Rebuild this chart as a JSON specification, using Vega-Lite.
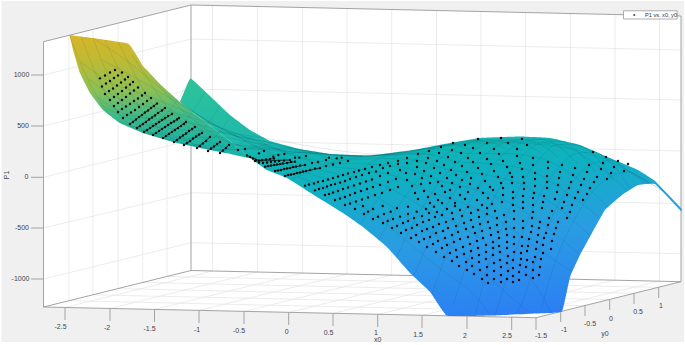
{"$schema":"https://vega.github.io/schema/vega-lite/v6.json","width":685,"height":345,"autosize":{"type":"fit","contains":"padding"},"padding":0,"background":"white","view":{"stroke":null},
"datasets":{
"wallsBg":[{"i":1,"u":43.5,"v":41.7},{"i":2,"u":191,"v":5},{"i":3,"u":681,"v":16},{"i":4,"u":681,"v":281.7},{"i":5,"u":536,"v":317.7},{"i":6,"u":43.5,"v":307}],
"grid":[{"u":212.5,"v":5.5,"u2":212.5,"v2":271},{"u":257.5,"v":6.5,"u2":257.5,"v2":272},{"u":302.5,"v":7.5,"u2":302.5,"v2":273},{"u":347,"v":8.5,"u2":347,"v2":274},{"u":391.7,"v":9.5,"u2":391.7,"v2":275},{"u":436.5,"v":10.5,"u2":436.5,"v2":276},{"u":481,"v":11.5,"u2":481,"v2":277},{"u":525.5,"v":12.5,"u2":525.5,"v2":278},{"u":570.5,"v":13.5,"u2":570.5,"v2":279},{"u":615,"v":14.5,"u2":615,"v2":280},{"u":659.5,"v":15.5,"u2":659.5,"v2":281},
{"u":191,"v":39,"u2":681,"v2":50},{"u":191,"v":89,"u2":681,"v2":100},{"u":191,"v":140,"u2":681,"v2":151},{"u":191,"v":192.7,"u2":681,"v2":203.7},{"u":191,"v":242.7,"u2":681,"v2":253.7},
{"u":43.5,"v":75,"u2":191,"v2":39},{"u":43.5,"v":126,"u2":191,"v2":89},{"u":43.5,"v":177.3,"u2":191,"v2":140},{"u":43.5,"v":228,"u2":191,"v2":192.7},{"u":43.5,"v":279,"u2":191,"v2":242.7},
{"u":69,"v":35.4,"u2":69,"v2":300.7},{"u":93,"v":29.5,"u2":93,"v2":294.8},{"u":118,"v":23.3,"u2":118,"v2":288.6},{"u":142.7,"v":17.2,"u2":142.7,"v2":282.4},{"u":167,"v":11.2,"u2":167,"v2":276.4},
{"u":65,"v":307.5,"u2":212.5,"v2":271},{"u":110,"v":308.5,"u2":257.5,"v2":272},{"u":154.5,"v":309.5,"u2":302.5,"v2":273},{"u":199,"v":310.5,"u2":347,"v2":274},{"u":244,"v":311.5,"u2":391.7,"v2":275},{"u":288.7,"v":312.5,"u2":436.5,"v2":276},{"u":333,"v":313.5,"u2":481,"v2":277},{"u":377.7,"v":314.5,"u2":525.5,"v2":278},{"u":422,"v":315.5,"u2":570.5,"v2":279},{"u":467,"v":316.5,"u2":615,"v2":280},{"u":511.7,"v":317,"u2":659.5,"v2":281},
{"u":69,"v":300.7,"u2":560.7,"v2":311.7},{"u":93,"v":294.8,"u2":585,"v2":305.7},{"u":118,"v":288.6,"u2":609.7,"v2":299.6},{"u":142.7,"v":282.4,"u2":634,"v2":293.4},{"u":167,"v":276.4,"u2":658.7,"v2":287.4}],
"axes":[{"u":43.5,"v":41.7,"u2":191,"v2":5},{"u":191,"v":5,"u2":681,"v2":16},{"u":43.5,"v":41.7,"u2":43.5,"v2":307},{"u":191,"v":5,"u2":191,"v2":270.5},{"u":681,"v":16,"u2":681,"v2":281.7},{"u":43.5,"v":307,"u2":536,"v2":317.7},{"u":536,"v":317.7,"u2":681,"v2":281.7},{"u":43.5,"v":307,"u2":191,"v2":270.5},{"u":191,"v":270.5,"u2":681,"v2":281.7},
{"u":31,"v":75,"u2":43.5,"v2":75},{"u":31,"v":126,"u2":43.5,"v2":126},{"u":31,"v":177.3,"u2":43.5,"v2":177.3},{"u":31,"v":228,"u2":43.5,"v2":228},{"u":31,"v":279,"u2":43.5,"v2":279},
{"u":65,"v":307.5,"u2":65,"v2":320},{"u":110,"v":308.5,"u2":110,"v2":321},{"u":154.5,"v":309.5,"u2":154.5,"v2":322},{"u":199,"v":310.5,"u2":199,"v2":323},{"u":244,"v":311.5,"u2":244,"v2":324},{"u":288.7,"v":312.5,"u2":288.7,"v2":325},{"u":333,"v":313.5,"u2":333,"v2":326},{"u":377.7,"v":314.5,"u2":377.7,"v2":327},{"u":422,"v":315.5,"u2":422,"v2":328},{"u":467,"v":316.5,"u2":467,"v2":329},{"u":511.7,"v":317,"u2":511.7,"v2":330},{"u":536,"v":317.7,"u2":536,"v2":330},
{"u":560.7,"v":311.7,"u2":560.7,"v2":322},{"u":585,"v":305.7,"u2":585,"v2":316},{"u":609.7,"v":299.6,"u2":609.7,"v2":310},{"u":634,"v":293.4,"u2":634,"v2":304},{"u":658.7,"v":287.4,"u2":658.7,"v2":298}],
"rest":[{"i":1,"u":180,"v":102},{"i":2,"u":190.5,"v":78.5},{"i":3,"u":210,"v":96},{"i":4,"u":230,"v":115},{"i":5,"u":250,"v":130},{"i":6,"u":270,"v":141},{"i":7,"u":300,"v":149},{"i":8,"u":330,"v":154},{"i":9,"u":370,"v":155.5},{"i":10,"u":410,"v":150.5},{"i":11,"u":450,"v":143},{"i":12,"u":480,"v":138},{"i":13,"u":520,"v":136.5},{"i":14,"u":550,"v":138},{"i":15,"u":580,"v":145},{"i":16,"u":610,"v":158},{"i":17,"u":638,"v":170},{"i":18,"u":655,"v":181},{"i":19,"u":681,"v":208},{"i":20,"u":681,"v":211},{"i":21,"u":655,"v":184},{"i":22,"u":638,"v":185},{"i":23,"u":622,"v":195},{"i":24,"u":605,"v":210},{"i":25,"u":592,"v":233},{"i":26,"u":580,"v":255},{"i":27,"u":570,"v":277},{"i":28,"u":562,"v":311.5},{"i":29,"u":535,"v":313.5},{"i":30,"u":490,"v":315.5},{"i":31,"u":447,"v":315.7},{"i":32,"u":430,"v":291.7},{"i":33,"u":410,"v":273},{"i":34,"u":387,"v":247},{"i":35,"u":363,"v":227},{"i":36,"u":343,"v":213},{"i":37,"u":317,"v":197},{"i":38,"u":287,"v":178},{"i":39,"u":267,"v":170},{"i":40,"u":250,"v":158},{"i":41,"u":230,"v":141},{"i":42,"u":205,"v":122}],
"front":[{"i":1,"u":69.5,"v":35},{"i":2,"u":128,"v":43.5},{"i":3,"u":143,"v":66},{"i":4,"u":160,"v":84},{"i":5,"u":180,"v":102},{"i":6,"u":205,"v":122},{"i":7,"u":230,"v":141},{"i":8,"u":250,"v":158},{"i":9,"u":230,"v":154},{"i":10,"u":200,"v":148},{"i":11,"u":173,"v":142},{"i":12,"u":143,"v":133},{"i":13,"u":120,"v":123},{"i":14,"u":103,"v":110},{"i":15,"u":90,"v":93},{"i":16,"u":80,"v":73},{"i":17,"u":73,"v":50}],
"mesh":[
{"g":"L1","u":69.5,"v":35},{"g":"L1","u":79.5,"v":61},{"g":"L1","u":97.5,"v":97},{"g":"L1","u":116,"v":120},{"g":"L1","u":134.5,"v":127},{"g":"L1","u":152.5,"v":124},{"g":"L1","u":170.5,"v":109},{"g":"L1","u":190.5,"v":78.5},
{"g":"L1b","u":81,"v":36.5},{"g":"L1b","u":95,"v":72},{"g":"L1b","u":113,"v":106},{"g":"L1b","u":131.5,"v":126},{"g":"L1b","u":150,"v":134},{"g":"L1b","u":168,"v":133},{"g":"L1b","u":186,"v":120},{"g":"L1b","u":205,"v":92},
{"g":"L2","u":93,"v":38},{"g":"L2","u":111,"v":82.5},{"g":"L2","u":129,"v":115},{"g":"L2","u":147,"v":131},{"g":"L2","u":166,"v":139},{"g":"L2","u":184,"v":140},{"g":"L2","u":202,"v":130},{"g":"L2","u":220,"v":106},
{"g":"L2b","u":105,"v":40},{"g":"L2b","u":120,"v":72},{"g":"L2b","u":138,"v":105},{"g":"L2b","u":156,"v":127},{"g":"L2b","u":174.5,"v":139.5},{"g":"L2b","u":193,"v":145},{"g":"L2b","u":211,"v":140},{"g":"L2b","u":229,"v":119},
{"g":"L3","u":118,"v":42},{"g":"L3","u":128.5,"v":62},{"g":"L3","u":146.5,"v":95.5},{"g":"L3","u":164.5,"v":120},{"g":"L3","u":183,"v":138},{"g":"L3","u":201.5,"v":147},{"g":"L3","u":219.5,"v":150},{"g":"L3","u":237.5,"v":145},{"g":"L3","u":255.5,"v":134},
{"g":"L3b","u":132,"v":55},{"g":"L3b","u":146,"v":76},{"g":"L3b","u":164,"v":103},{"g":"L3b","u":182,"v":122},{"g":"L3b","u":201,"v":137},{"g":"L3b","u":219,"v":146},{"g":"L3b","u":237,"v":150},{"g":"L3b","u":255,"v":147},{"g":"L3b","u":273,"v":143},
{"g":"L4","u":146,"v":68},{"g":"L4","u":164,"v":91},{"g":"L4","u":182,"v":110},{"g":"L4","u":200,"v":125},{"g":"L4","u":219,"v":137},{"g":"L4","u":237,"v":145},{"g":"L4","u":255,"v":149},{"g":"L4","u":273,"v":149},{"g":"L4","u":291,"v":148},
{"g":"L5","u":182,"v":104},{"g":"L5","u":200,"v":116},{"g":"L5","u":218,"v":127},{"g":"L5","u":236,"v":136},{"g":"L5","u":254.5,"v":143},{"g":"L5","u":273,"v":148},{"g":"L5","u":291,"v":152},{"g":"L5","u":309,"v":153},{"g":"L5","u":327,"v":154.5},
{"g":"L6","u":218,"v":132},{"g":"L6","u":236,"v":136},{"g":"L6","u":254,"v":139.5},{"g":"L6","u":272,"v":143},{"g":"L6","u":290,"v":148},{"g":"L6","u":309,"v":151},{"g":"L6","u":327,"v":154},{"g":"L6","u":345,"v":155.5},{"g":"L6","u":363,"v":156.5},
{"g":"L7","u":253,"v":158},{"g":"L7","u":271,"v":155},{"g":"L7","u":289,"v":153.5},{"g":"L7","u":307,"v":152},{"g":"L7","u":326,"v":154},{"g":"L7","u":344,"v":155.5},{"g":"L7","u":362,"v":156},{"g":"L7","u":380,"v":155.5},{"g":"L7","u":398,"v":155},
{"g":"L8","u":289,"v":181},{"g":"L8","u":307,"v":172.5},{"g":"L8","u":325,"v":165.5},{"g":"L8","u":343,"v":160},{"g":"L8","u":361.5,"v":157},{"g":"L8","u":380,"v":155},{"g":"L8","u":398,"v":152.5},{"g":"L8","u":416,"v":153},{"g":"L8","u":434,"v":155},
{"g":"L9","u":325,"v":201},{"g":"L9","u":343,"v":183.7},{"g":"L9","u":361,"v":169.5},{"g":"L9","u":379,"v":158.5},{"g":"L9","u":397,"v":152.5},{"g":"L9","u":416,"v":151},{"g":"L9","u":434,"v":147},{"g":"L9","u":452,"v":145},{"g":"L9","u":470,"v":150},
{"g":"L10","u":360.5,"v":224},{"g":"L10","u":378.5,"v":198},{"g":"L10","u":396.5,"v":176.7},{"g":"L10","u":414.5,"v":160},{"g":"L10","u":433,"v":148.5},{"g":"L10","u":451.5,"v":144.5},{"g":"L10","u":469.5,"v":141},{"g":"L10","u":487.5,"v":141.8},{"g":"L10","u":505.5,"v":149},
{"g":"L10b","u":378,"v":241},{"g":"L10b","u":396,"v":210},{"g":"L10b","u":414,"v":185},{"g":"L10b","u":432,"v":165},{"g":"L10b","u":451,"v":151},{"g":"L10b","u":469,"v":142.5},{"g":"L10b","u":487,"v":139.5},{"g":"L10b","u":505,"v":142.5},{"g":"L10b","u":523,"v":151},
{"g":"L11","u":396,"v":258},{"g":"L11","u":414,"v":222},{"g":"L11","u":432,"v":192.7},{"g":"L11","u":450,"v":170},{"g":"L11","u":468.7,"v":153.5},{"g":"L11","u":487,"v":143.6},{"g":"L11","u":505,"v":140},{"g":"L11","u":523,"v":143.3},{"g":"L11","u":541,"v":153},
{"g":"L11b","u":414,"v":276},{"g":"L11b","u":432,"v":233.5},{"g":"L11b","u":450,"v":199},{"g":"L11b","u":468,"v":172.5},{"g":"L11b","u":486.6,"v":153.5},{"g":"L11b","u":505,"v":142.8},{"g":"L11b","u":523,"v":139.7},{"g":"L11b","u":541,"v":145},{"g":"L11b","u":559,"v":158},
{"g":"L12","u":432,"v":294},{"g":"L12","u":450,"v":245},{"g":"L12","u":468,"v":205},{"g":"L12","u":486,"v":175},{"g":"L12","u":504.5,"v":153.5},{"g":"L12","u":523,"v":142},{"g":"L12","u":541,"v":139.5},{"g":"L12","u":559,"v":146.6},{"g":"L12","u":577,"v":163},
{"g":"L12b","u":453,"v":305},{"g":"L12b","u":468,"v":260},{"g":"L12b","u":486,"v":214},{"g":"L12b","u":504,"v":180},{"g":"L12b","u":522,"v":156},{"g":"L12b","u":541,"v":143},{"g":"L12b","u":559,"v":141.5},{"g":"L12b","u":577,"v":151},{"g":"L12b","u":595,"v":171.5},
{"g":"L13","u":475,"v":316},{"g":"L13","u":485.6,"v":275},{"g":"L13","u":503.6,"v":223.5},{"g":"L13","u":521.6,"v":184.4},{"g":"L13","u":540,"v":158},{"g":"L13","u":558.6,"v":144.4},{"g":"L13","u":576.6,"v":145},{"g":"L13","u":594.6,"v":155.4},{"g":"L13","u":612.6,"v":180},
{"g":"L13b","u":495,"v":316},{"g":"L13b","u":503,"v":290},{"g":"L13b","u":521,"v":236.5},{"g":"L13b","u":539,"v":196},{"g":"L13b","u":558,"v":168},{"g":"L13b","u":576,"v":153.7},{"g":"L13b","u":594,"v":152},{"g":"L13b","u":612,"v":164},{"g":"L13b","u":630,"v":188.5},
{"g":"L14","u":516,"v":314},{"g":"L14","u":521,"v":305.5},{"g":"L14","u":539,"v":249.5},{"g":"L14","u":557,"v":207},{"g":"L14","u":576,"v":178},{"g":"L14","u":594,"v":163},{"g":"L14","u":612,"v":160.5},{"g":"L14","u":630,"v":172},{"g":"L14","u":648,"v":182},
{"g":"L14b","u":541.5,"v":308},{"g":"L14b","u":555.5,"v":261},{"g":"L14b","u":573.5,"v":221.5},{"g":"L14b","u":592,"v":192.5},{"g":"L14b","u":610.5,"v":176.5},{"g":"L14b","u":628.5,"v":172},{"g":"L14b","u":646.5,"v":181},{"g":"L14b","u":664.5,"v":192},
{"g":"S1","u":93,"v":38},{"g":"S1","u":128.5,"v":62},{"g":"S1","u":164,"v":91},{"g":"S1","u":200,"v":116},{"g":"S1","u":236,"v":136},{"g":"S1","u":271,"v":155},{"g":"S1","u":307,"v":172.5},{"g":"S1","u":343,"v":184},{"g":"S1","u":378.5,"v":198},{"g":"S1","u":414,"v":222},{"g":"S1","u":450,"v":245},{"g":"S1","u":485.6,"v":275},{"g":"S1","u":521,"v":305.5},{"g":"S1","u":530,"v":313},
{"g":"S2","u":79.5,"v":61},{"g":"S2","u":111,"v":82.5},{"g":"S2","u":146.5,"v":95.5},{"g":"S2","u":182,"v":110},{"g":"S2","u":218,"v":127},{"g":"S2","u":254,"v":139.5},{"g":"S2","u":289,"v":153.5},{"g":"S2","u":325,"v":165.5},{"g":"S2","u":361,"v":169.5},{"g":"S2","u":396.5,"v":176.7},{"g":"S2","u":432,"v":192.7},{"g":"S2","u":468,"v":205},{"g":"S2","u":503.6,"v":223.5},{"g":"S2","u":539,"v":249.5},{"g":"S2","u":572,"v":272},
{"g":"S3","u":97.5,"v":97},{"g":"S3","u":129,"v":115},{"g":"S3","u":164.5,"v":120},{"g":"S3","u":200,"v":125},{"g":"S3","u":236,"v":136},{"g":"S3","u":272,"v":143},{"g":"S3","u":307,"v":152},{"g":"S3","u":343,"v":160},{"g":"S3","u":379,"v":158.5},{"g":"S3","u":414.5,"v":160},{"g":"S3","u":450,"v":170},{"g":"S3","u":486,"v":175},{"g":"S3","u":521.6,"v":184.4},{"g":"S3","u":557,"v":207},{"g":"S3","u":590,"v":236},
{"g":"S4","u":116,"v":120},{"g":"S4","u":147,"v":131},{"g":"S4","u":183,"v":138},{"g":"S4","u":219,"v":137},{"g":"S4","u":254.5,"v":143},{"g":"S4","u":290,"v":148},{"g":"S4","u":326,"v":154},{"g":"S4","u":361.5,"v":157},{"g":"S4","u":397,"v":152.5},{"g":"S4","u":433,"v":148.5},{"g":"S4","u":468.7,"v":153.5},{"g":"S4","u":504.5,"v":153.5},{"g":"S4","u":540,"v":158},{"g":"S4","u":576,"v":178},{"g":"S4","u":608,"v":207},
{"g":"S5","u":134.5,"v":127},{"g":"S5","u":166,"v":139},{"g":"S5","u":201.5,"v":146},{"g":"S5","u":237,"v":145},{"g":"S5","u":273,"v":148},{"g":"S5","u":309,"v":151},{"g":"S5","u":344,"v":155.5},{"g":"S5","u":380,"v":155},{"g":"S5","u":416,"v":151},{"g":"S5","u":451.5,"v":144.5},{"g":"S5","u":487,"v":143.6},{"g":"S5","u":523,"v":142},{"g":"S5","u":558.6,"v":144.4},{"g":"S5","u":594,"v":163},{"g":"S5","u":627,"v":190},
{"g":"S6","u":152.5,"v":124},{"g":"S6","u":184,"v":140},{"g":"S6","u":219.5,"v":150},{"g":"S6","u":255,"v":149},{"g":"S6","u":291,"v":152},{"g":"S6","u":327,"v":154},{"g":"S6","u":362,"v":156},{"g":"S6","u":398,"v":152.5},{"g":"S6","u":434,"v":147},{"g":"S6","u":469.5,"v":141},{"g":"S6","u":505,"v":140},{"g":"S6","u":541,"v":139.5},{"g":"S6","u":576.6,"v":145},{"g":"S6","u":612,"v":160.5},{"g":"S6","u":645,"v":183},
{"g":"S7","u":170.5,"v":109},{"g":"S7","u":202,"v":130},{"g":"S7","u":237.5,"v":145},{"g":"S7","u":273,"v":149},{"g":"S7","u":309,"v":153},{"g":"S7","u":345,"v":155.5},{"g":"S7","u":380,"v":155},{"g":"S7","u":416,"v":153},{"g":"S7","u":452,"v":145},{"g":"S7","u":487.5,"v":141.8},{"g":"S7","u":523,"v":143.3},{"g":"S7","u":559,"v":146.6},{"g":"S7","u":594.6,"v":155.4},{"g":"S7","u":630,"v":172},{"g":"S7","u":663,"v":191},
{"g":"S0b","u":298,"v":177},{"g":"S0b","u":334,"v":192.5},{"g":"S0b","u":369.5,"v":211},{"g":"S0b","u":405,"v":240},{"g":"S0b","u":441,"v":269.5},{"g":"S0b","u":476,"v":297},{"g":"S0b","u":490,"v":315},
{"g":"S1b","u":102,"v":60},{"g":"S1b","u":137.5,"v":79},{"g":"S1b","u":173,"v":100},{"g":"S1b","u":209,"v":121.5},{"g":"S1b","u":316,"v":169},{"g":"S1b","u":352,"v":177},{"g":"S1b","u":387.5,"v":187},{"g":"S1b","u":423,"v":207},{"g":"S1b","u":459,"v":225},{"g":"S1b","u":494.6,"v":249},{"g":"S1b","u":530,"v":277.5},{"g":"S1b","u":551,"v":312},
{"g":"S2b","u":88.5,"v":79},{"g":"S2b","u":120,"v":99},{"g":"S2b","u":155.5,"v":108},{"g":"S2b","u":191,"v":117.5},{"g":"S2b","u":334,"v":163},{"g":"S2b","u":370,"v":164},{"g":"S2b","u":405.5,"v":168},{"g":"S2b","u":441,"v":181},{"g":"S2b","u":477,"v":190},{"g":"S2b","u":512.6,"v":204},{"g":"S2b","u":548,"v":228},{"g":"S2b","u":579,"v":254},
{"g":"S3b","u":107,"v":108.5},{"g":"S3b","u":138,"v":122},{"g":"S3b","u":174,"v":129},{"g":"S3b","u":209.5,"v":131},{"g":"S3b","u":388,"v":154.5},{"g":"S3b","u":424,"v":154},{"g":"S3b","u":459,"v":162},{"g":"S3b","u":495,"v":164},{"g":"S3b","u":531,"v":171},{"g":"S3b","u":566.5,"v":192.5},{"g":"S3b","u":599,"v":217}],
"streaks":[{"u":130,"v":124,"u2":157,"v2":103.5},{"u":137,"v":128,"u2":165,"v2":108},{"u":144,"v":132,"u2":172,"v2":114},{"u":153,"v":135,"u2":179,"v2":118},{"u":163,"v":138,"u2":186,"v2":122},{"u":174,"v":142,"u2":195,"v2":127},{"u":184,"v":145,"u2":202,"v2":133},{"u":197,"v":148,"u2":210,"v2":137},{"u":208,"v":151,"u2":220,"v2":142},{"u":220,"v":153,"u2":229,"v2":145},{"u":247,"v":155.5,"u2":259,"v2":160.5},{"u":259,"v":160.5,"u2":274,"v2":158.5},{"u":255,"v":161,"u2":290,"v2":160},{"u":265,"v":166.7,"u2":295,"v2":161.7},{"u":275,"v":171,"u2":305,"v2":165},{"u":285,"v":176,"u2":320,"v2":168}],
"dots":[{"u":100,"v":78.3},{"u":105,"v":75.5},{"u":110,"v":72.5},{"u":115,"v":70},{"u":102,"v":86.5},{"u":106,"v":83.5},{"u":110,"v":81},{"u":114,"v":78},{"u":118,"v":75.5},{"u":122,"v":72.5},{"u":105,"v":94},{"u":109,"v":91},{"u":113,"v":88.5},{"u":117,"v":85.5},{"u":121,"v":82.5},{"u":125,"v":79.5},{"u":128,"v":77},{"u":110,"v":100},{"u":114,"v":97},{"u":118,"v":94},{"u":122,"v":91},{"u":126,"v":87.5},{"u":130,"v":84.5},{"u":133,"v":82},{"u":114,"v":106},{"u":118,"v":103},{"u":122,"v":100},{"u":126,"v":97},{"u":130,"v":93.5},{"u":134,"v":90.5},{"u":138,"v":87.5},{"u":118,"v":112},{"u":122,"v":109},{"u":126,"v":106.5},{"u":130,"v":104},{"u":134,"v":101},{"u":138,"v":98.5},{"u":142,"v":95.5},{"u":145,"v":93},{"u":123,"v":118},{"u":127,"v":115},{"u":131,"v":112.5},{"u":135,"v":110},{"u":139,"v":107},{"u":143,"v":104},{"u":147,"v":101},{"u":151,"v":98},{"u":130,"v":124},{"u":133,"v":122},{"u":136,"v":119.5},{"u":139,"v":117},{"u":142,"v":115},{"u":145,"v":112.5},{"u":148,"v":110.5},{"u":151,"v":108},{"u":154,"v":106},{"u":157,"v":103.5},{"u":137,"v":128},{"u":140,"v":126},{"u":143,"v":124},{"u":146,"v":122},{"u":149,"v":119.5},{"u":152,"v":117.5},{"u":155,"v":115.5},{"u":158,"v":113},{"u":162,"v":110.5},{"u":165,"v":108},{"u":144,"v":132},{"u":147,"v":130},{"u":150,"v":128},{"u":153,"v":126},{"u":156,"v":124},{"u":159,"v":122},{"u":162,"v":120},{"u":165,"v":118},{"u":168,"v":116},{"u":172,"v":114},{"u":153,"v":135},{"u":156,"v":133},{"u":159,"v":131},{"u":162,"v":129},{"u":165,"v":127},{"u":168,"v":125},{"u":171,"v":123},{"u":174,"v":121.5},{"u":177,"v":119.5},{"u":179,"v":118},{"u":163,"v":138},{"u":166,"v":136},{"u":169,"v":134},{"u":172,"v":132},{"u":175,"v":130},{"u":178,"v":128},{"u":181,"v":126},{"u":184,"v":124},{"u":186,"v":122},{"u":174,"v":142},{"u":177,"v":140},{"u":180,"v":137.5},{"u":183,"v":135.5},{"u":186,"v":133.5},{"u":189,"v":131},{"u":192,"v":129},{"u":195,"v":127},{"u":184,"v":145},{"u":187,"v":143},{"u":190,"v":141},{"u":193,"v":138.5},{"u":196,"v":136.5},{"u":199,"v":134.5},{"u":202,"v":133},{"u":197,"v":148},{"u":200,"v":146},{"u":203,"v":143.5},{"u":206,"v":141},{"u":210,"v":137},{"u":208,"v":151},{"u":211,"v":148.5},{"u":214,"v":146.5},{"u":217,"v":144},{"u":220,"v":142},{"u":220,"v":153},{"u":223,"v":150.5},{"u":226,"v":148},{"u":229,"v":145},
{"u":238,"v":150},{"u":245,"v":149},{"u":259,"v":153.3},{"u":264,"v":151},{"u":273.3,"v":156.7},{"u":278.3,"v":155},{"u":284.3,"v":154},{"u":295,"v":157.7},{"u":299.3,"v":157.7},{"u":306,"v":156},{"u":329,"v":157.7},{"u":336.7,"v":158.3},{"u":341.7,"v":157.7},
{"u":247,"v":155.5},{"u":250,"v":157},{"u":253,"v":158.5},{"u":256,"v":160},{"u":259,"v":160.5},{"u":262,"v":160},{"u":266,"v":159.5},{"u":270,"v":159},{"u":274,"v":158.5},{"u":255,"v":161},{"u":259,"v":162.5},{"u":263,"v":163},{"u":267,"v":162.5},{"u":271,"v":162},{"u":275,"v":161.5},{"u":279,"v":161},{"u":284,"v":160.5},{"u":290,"v":160},{"u":265,"v":166.7},{"u":268,"v":166},{"u":271,"v":165.5},{"u":274,"v":165},{"u":277,"v":164.5},{"u":280,"v":164},{"u":283,"v":163.5},{"u":287,"v":163},{"u":291,"v":162},{"u":295,"v":161.7},{"u":275,"v":171},{"u":278,"v":170.5},{"u":281,"v":170},{"u":284,"v":169},{"u":287,"v":168.5},{"u":290,"v":168},{"u":293,"v":167},{"u":296,"v":166.5},{"u":300,"v":165.5},{"u":305,"v":165},{"u":312,"v":163},{"u":318,"v":162},{"u":326,"v":160},{"u":285,"v":176},{"u":288,"v":175},{"u":291,"v":174.5},{"u":294,"v":174},{"u":297,"v":173},{"u":300,"v":172.5},{"u":303,"v":171.5},{"u":306,"v":171},{"u":310,"v":170},{"u":315,"v":168.5},{"u":320,"v":168},{"u":326,"v":166},{"u":333,"v":164.5},{"u":340,"v":163},{"u":348,"v":161},
{"u":305,"v":185.7},{"u":309,"v":184.5},{"u":314,"v":183.5},{"u":318,"v":182},{"u":323,"v":181},{"u":328,"v":179.5},{"u":333,"v":178},{"u":338,"v":176.5},{"u":343,"v":175},{"u":348,"v":173.5},{"u":354,"v":172},{"u":359,"v":170.5},{"u":365,"v":169},{"u":372,"v":167},{"u":380,"v":165},{"u":388,"v":163},{"u":398,"v":161},{"u":407,"v":158},
{"u":315,"v":190.3},{"u":319,"v":189},{"u":323,"v":188},{"u":327,"v":186.5},{"u":331,"v":185},{"u":335,"v":184},{"u":340,"v":182.5},{"u":345,"v":181},{"u":350,"v":179},{"u":356,"v":177},{"u":362,"v":175},{"u":369,"v":173},{"u":376,"v":171.5},{"u":383,"v":168},{"u":390,"v":166},{"u":398,"v":164},{"u":407,"v":163},
{"u":325,"v":195},{"u":329,"v":194},{"u":333,"v":192.5},{"u":338,"v":191},{"u":343,"v":189},{"u":348,"v":187.5},{"u":354,"v":185.5},{"u":360,"v":183.5},{"u":366,"v":181.5},{"u":372,"v":179.5},{"u":380,"v":176},{"u":388,"v":173},{"u":400,"v":170},
{"u":335,"v":200},{"u":340,"v":198.5},{"u":345,"v":197},{"u":350,"v":195},{"u":355,"v":193},{"u":361,"v":191},{"u":367,"v":189},{"u":373,"v":187},{"u":380,"v":185},{"u":388,"v":182},{"u":396,"v":179},{"u":406,"v":173},
{"u":345,"v":205},{"u":350,"v":203.5},{"u":356,"v":201.5},{"u":362,"v":199.5},{"u":368,"v":197.5},{"u":375,"v":195},{"u":382,"v":193},{"u":390,"v":190},{"u":398,"v":187},{"u":407,"v":180},
{"u":355,"v":209},{"u":363,"v":206},{"u":364,"v":214},{"u":368,"v":211.7},{"u":373,"v":209},{"u":382.7,"v":206},{"u":373,"v":219},{"u":378,"v":216.7},{"u":384,"v":214},{"u":390.7,"v":211.7},{"u":397,"v":208},{"u":408,"v":206.7},{"u":383,"v":223},{"u":387.7,"v":221},{"u":393,"v":219},{"u":400,"v":216.7},{"u":408,"v":214},{"u":416.7,"v":211.7},{"u":426,"v":209},{"u":434,"v":206.7},
{"u":392,"v":228},{"u":397,"v":226},{"u":403,"v":223},{"u":408,"v":221},{"u":414,"v":218},{"u":422,"v":216},{"u":429,"v":213},{"u":437,"v":212},{"u":447,"v":209},{"u":455,"v":206},{"u":401,"v":233},{"u":406,"v":230},{"u":412,"v":228},{"u":417,"v":225},{"u":423,"v":222},{"u":429,"v":220},{"u":435,"v":217},{"u":442,"v":215},{"u":452,"v":213},{"u":460,"v":210},{"u":468,"v":207},{"u":411,"v":238},{"u":416,"v":235},{"u":422,"v":231},{"u":427,"v":229},{"u":433,"v":227},{"u":439,"v":224},{"u":446,"v":222},{"u":453,"v":219},{"u":462,"v":216},{"u":471,"v":213},{"u":478,"v":210},{"u":487,"v":208},{"u":419,"v":242},{"u":424,"v":239},{"u":430,"v":237},{"u":436,"v":233},{"u":443,"v":231},{"u":448,"v":228},{"u":456,"v":226},{"u":464,"v":223},{"u":471,"v":220},{"u":479,"v":217},{"u":487,"v":214},{"u":495,"v":211},{"u":427,"v":247},{"u":433,"v":244},{"u":438,"v":241},{"u":445,"v":238},{"u":452,"v":235},{"u":458,"v":232},{"u":466,"v":229},{"u":473,"v":227},{"u":480,"v":224},{"u":488,"v":222},{"u":497,"v":218},{"u":504,"v":215},{"u":436,"v":252},{"u":442,"v":248},{"u":447,"v":245},{"u":454,"v":242},{"u":460,"v":239},{"u":468,"v":237},{"u":475,"v":233},{"u":482,"v":231},{"u":490,"v":228},{"u":497,"v":225},{"u":506,"v":222},{"u":444,"v":257},{"u":450,"v":253},{"u":456,"v":250},{"u":463,"v":247},{"u":470,"v":244},{"u":477,"v":241},{"u":483,"v":238},{"u":491,"v":235},{"u":498,"v":232},{"u":506,"v":229},{"u":452,"v":261},{"u":457,"v":257},{"u":464,"v":254},{"u":471,"v":251},{"u":478,"v":248},{"u":486,"v":245},{"u":493,"v":242},{"u":499,"v":238},{"u":507,"v":235},{"u":459,"v":266},{"u":466,"v":262},{"u":472,"v":258},{"u":479,"v":255},{"u":486,"v":252},{"u":493,"v":248},{"u":499,"v":246},{"u":507,"v":242},{"u":467,"v":270},{"u":472,"v":266},{"u":479,"v":262},{"u":486,"v":259},{"u":493,"v":255},{"u":500,"v":252},{"u":507,"v":248},{"u":474,"v":274},{"u":480,"v":270},{"u":487,"v":267},{"u":494,"v":263},{"u":500,"v":260},{"u":508,"v":256},{"u":482,"v":279},{"u":487,"v":275},{"u":494,"v":271},{"u":501,"v":267},{"u":507,"v":263},{"u":488,"v":283},{"u":494,"v":279},{"u":501,"v":275},{"u":508,"v":271},{"u":501,"v":282},{"u":507,"v":279},
{"u":523,"v":208},{"u":542,"v":208},{"u":562,"v":208},{"u":514,"v":211},{"u":533,"v":212},{"u":552,"v":211},{"u":570,"v":212},{"u":514,"v":219},{"u":523,"v":221},{"u":532,"v":218},{"u":549,"v":218},{"u":567,"v":218},{"u":540,"v":222},{"u":558,"v":222},{"u":514,"v":228},{"u":523,"v":228},{"u":532,"v":226},{"u":548,"v":225},{"u":556,"v":228},{"u":539,"v":228},{"u":514,"v":237},{"u":522,"v":237},{"u":531,"v":232},{"u":538,"v":235},{"u":546,"v":233},{"u":554,"v":234},{"u":514,"v":244},{"u":522,"v":246},{"u":529,"v":239},{"u":537,"v":242},{"u":544,"v":238},{"u":552,"v":241},{"u":514,"v":252},{"u":521,"v":253},{"u":528,"v":246},{"u":536,"v":249},{"u":543,"v":245},{"u":551,"v":249},{"u":513,"v":260},{"u":521,"v":259},{"u":527,"v":251},{"u":535,"v":257},{"u":543,"v":253},{"u":513,"v":268},{"u":520,"v":265},{"u":527,"v":260},{"u":533,"v":262},{"u":541,"v":259},{"u":513,"v":276},{"u":519,"v":272},{"u":526,"v":267},{"u":533,"v":270},{"u":540,"v":267},{"u":513,"v":282},{"u":519,"v":280},{"u":526,"v":275},{"u":533,"v":278},{"u":539,"v":275},
{"u":418,"v":154},{"u":429,"v":151},{"u":441,"v":147},{"u":453,"v":143},{"u":478,"v":139},{"u":501,"v":138},{"u":522,"v":139},{"u":417,"v":161},{"u":428,"v":158},{"u":439,"v":153},{"u":452,"v":150},{"u":465,"v":145},{"u":487,"v":143},{"u":508,"v":143},{"u":417,"v":167},{"u":426,"v":163},{"u":437,"v":161},{"u":448,"v":157},{"u":461,"v":153},{"u":473,"v":148},{"u":494,"v":149},{"u":517,"v":149},{"u":415,"v":174},{"u":424,"v":171},{"u":434,"v":168},{"u":444,"v":165},{"u":455,"v":162},{"u":468,"v":158},{"u":480,"v":153},{"u":499,"v":154},{"u":527,"v":145},{"u":422,"v":178},{"u":431,"v":176},{"u":440,"v":173},{"u":451,"v":170},{"u":462,"v":166},{"u":473,"v":162},{"u":487,"v":159},{"u":503,"v":161},{"u":517,"v":156},{"u":533,"v":158},{"u":430,"v":183},{"u":438,"v":182},{"u":447,"v":178},{"u":456,"v":175},{"u":467,"v":172},{"u":478,"v":168},{"u":491,"v":164},{"u":507,"v":167},{"u":520,"v":163},{"u":533,"v":165},{"u":442,"v":186},{"u":452,"v":183},{"u":462,"v":180},{"u":471,"v":178},{"u":482,"v":174},{"u":494,"v":171},{"u":510,"v":173},{"u":522,"v":169},{"u":535,"v":173},{"u":548,"v":162},{"u":450,"v":190},{"u":460,"v":187},{"u":470,"v":184},{"u":485,"v":181},{"u":498,"v":177},{"u":512,"v":177},{"u":523,"v":177},{"u":548,"v":168},{"u":562,"v":165},{"u":468,"v":192},{"u":478,"v":188},{"u":490,"v":187},{"u":501,"v":183},{"u":512,"v":183},{"u":524,"v":183},{"u":535,"v":179},{"u":547,"v":176},{"u":560,"v":172},{"u":483,"v":193},{"u":493,"v":190},{"u":503,"v":188},{"u":513,"v":192},{"u":524,"v":189},{"u":535,"v":186},{"u":547,"v":182},{"u":559,"v":178},{"u":477,"v":200},{"u":488,"v":198},{"u":503,"v":195},{"u":513,"v":198},{"u":523,"v":196},{"u":534,"v":193},{"u":547,"v":188},{"u":558,"v":185},{"u":482,"v":205},{"u":492,"v":204},{"u":502,"v":202},{"u":513,"v":205},{"u":523,"v":202},{"u":533,"v":198},{"u":544,"v":196},{"u":557,"v":192},{"u":533,"v":205},{"u":543,"v":202},{"u":555,"v":199},{"u":412,"v":186},{"u":421,"v":184},{"u":415,"v":193},{"u":424,"v":191},{"u":435,"v":194},{"u":445,"v":192},{"u":418,"v":199},{"u":428,"v":197},{"u":438,"v":200},{"u":450,"v":198},{"u":460,"v":195},{"u":430,"v":203},{"u":442,"v":203},{"u":455,"v":203},{"u":465,"v":199},
{"u":593,"v":152},{"u":606,"v":157},{"u":618,"v":161},{"u":628,"v":164},{"u":603,"v":163},{"u":614,"v":167},{"u":624,"v":171},{"u":575,"v":168},{"u":589,"v":165},{"u":601,"v":169},{"u":611,"v":173},{"u":573,"v":175},{"u":587,"v":172},{"u":597,"v":177},{"u":607,"v":179},{"u":571,"v":182},{"u":584,"v":179},{"u":594,"v":182},{"u":569,"v":188},{"u":581,"v":185},{"u":590,"v":188},{"u":567,"v":195},{"u":578,"v":192},{"u":587,"v":194},{"u":564,"v":202},{"u":575,"v":198},{"u":572,"v":205},{"u":583,"v":200}],
"labels":[{"u":21.5,"v":75,"t":"1000"},{"u":23,"v":126,"t":"500"},{"u":26.5,"v":177.3,"t":"0"},{"u":22,"v":228,"t":"-500"},{"u":20.5,"v":279,"t":"-1000"},{"u":60.5,"v":327,"t":"-2.5"},{"u":107,"v":328,"t":"-2"},{"u":149.5,"v":329,"t":"-1.5"},{"u":197,"v":330,"t":"-1"},{"u":239,"v":331,"t":"-0.5"},{"u":286.7,"v":332,"t":"0"},{"u":328.5,"v":332.5,"t":"0.5"},{"u":376,"v":333,"t":"1"},{"u":418,"v":334.5,"t":"1.5"},{"u":465,"v":335.5,"t":"2"},{"u":507,"v":336,"t":"2.5"},{"u":541,"v":336,"t":"-1.5"},{"u":564,"v":330,"t":"-1"},{"u":590,"v":324,"t":"-0.5"},{"u":611,"v":318.5,"t":"0"},{"u":638,"v":312,"t":"0.5"},{"u":661,"v":306,"t":"1"},{"u":377.7,"v":340,"t":"x0"},{"u":605,"v":334,"t":"y0"}]
},
"encoding":{"x":{"field":"u","type":"quantitative","scale":{"domain":[0,685],"nice":false,"zero":false},"axis":null},"y":{"field":"v","type":"quantitative","scale":{"domain":[345,0],"nice":false,"zero":false},"axis":null}},
"layer":[
{"data":{"values":[{"u":1.5,"v":1,"u2":684,"v2":342}]},"mark":{"type":"rect","color":"#f0f0f0"},"encoding":{"x2":{"field":"u2"},"y2":{"field":"v2"}}},
{"data":{"name":"wallsBg"},"mark":{"type":"line","fill":"white","stroke":null,"strokeWidth":0},"encoding":{"order":{"field":"i"}}},
{"data":{"name":"grid"},"mark":{"type":"rule","color":"#e4e4e4","strokeWidth":0.7},"encoding":{"x2":{"field":"u2"},"y2":{"field":"v2"}}},
{"data":{"name":"axes"},"mark":{"type":"rule","color":"#9a9a9a","strokeWidth":0.9},"encoding":{"x2":{"field":"u2"},"y2":{"field":"v2"}}},
{"data":{"name":"rest"},"mark":{"type":"line","interpolate":"cardinal","tension":0.75,"stroke":null,"strokeWidth":0,"fill":{"gradient":"linear","x1":0,"y1":0,"x2":0.244,"y2":1.16,"stops":[{"offset":0,"color":"#2ec396"},{"offset":0.25,"color":"#1cb9ae"},{"offset":0.3,"color":"#10b5b2"},{"offset":0.43,"color":"#0fb0c2"},{"offset":0.655,"color":"#2a9ce2"},{"offset":0.94,"color":"#2c7ff4"},{"offset":1,"color":"#2c78f6"}]}},"encoding":{"order":{"field":"i"}}},
{"data":{"name":"front"},"mark":{"type":"line","interpolate":"cardinal","tension":0.75,"stroke":null,"strokeWidth":0,"fill":{"gradient":"linear","x1":0,"y1":0,"x2":0,"y2":1,"stops":[{"offset":0,"color":"#d6b52a"},{"offset":0.2,"color":"#c0ba32"},{"offset":0.45,"color":"#8cc055"},{"offset":0.65,"color":"#3fbb88"},{"offset":0.85,"color":"#20b6a2"},{"offset":1,"color":"#18b2ab"}]}},"encoding":{"order":{"field":"i"}}},
{"data":{"name":"mesh"},"mark":{"type":"line","interpolate":"monotone","color":"#06304a","opacity":0.2,"strokeWidth":0.5},"encoding":{"detail":{"field":"g"}}},
{"data":{"name":"streaks"},"mark":{"type":"rule","color":"#0a0a0a","strokeWidth":0.9,"opacity":0.8},"encoding":{"x2":{"field":"u2"},"y2":{"field":"v2"}}},
{"data":{"name":"dots"},"mark":{"type":"point","filled":true,"size":5.5,"color":"#0a0a0a","opacity":1,"strokeWidth":0}},
{"data":{"name":"labels"},"mark":{"type":"text","font":"Liberation Sans","fontSize":7,"color":"#444444","baseline":"middle","align":"center"},"encoding":{"text":{"field":"t"}}},
{"data":{"values":[{"u":6.5,"v":175,"t":"P1"}]},"mark":{"type":"text","font":"Liberation Sans","fontSize":7,"angle":270,"color":"#444444","baseline":"middle","align":"center"},"encoding":{"text":{"field":"t"}}},
{"data":{"values":[{"u":623.5,"v":10.8,"u2":677.2,"v2":19}]},"mark":{"type":"rect","fill":"white","stroke":"#9a9a9a","strokeWidth":0.8},"encoding":{"x2":{"field":"u2"},"y2":{"field":"v2"}}},
{"data":{"values":[{"u":634.3,"v":15}]},"mark":{"type":"point","filled":true,"size":5,"color":"#0a0a0a","strokeWidth":0}},
{"data":{"values":[{"u":645,"v":15.2,"t":"P1 vs. x0, y0"}]},"mark":{"type":"text","font":"Liberation Sans","fontSize":5.6,"color":"#333333","baseline":"middle","align":"left"},"encoding":{"text":{"field":"t"}}}
]}
